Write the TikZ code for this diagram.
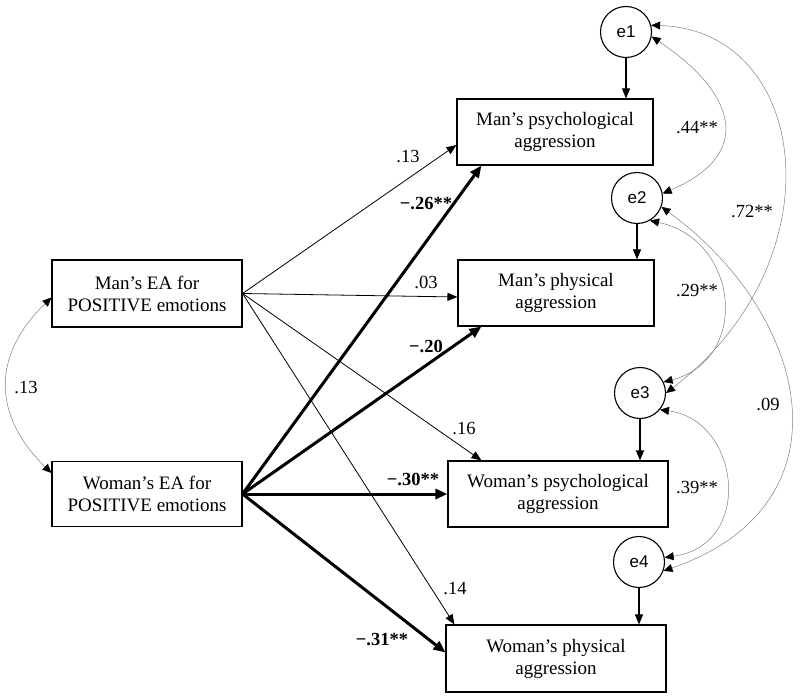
\documentclass[tikz,border=0pt]{standalone}
\usepackage{fontspec}
\setmainfont{Liberation Serif}
\setsansfont{Liberation Sans}
\usetikzlibrary{arrows.meta}

\tikzset{
box/.style={draw, line width=1.1pt, minimum width=196pt, minimum height=66pt,
  align=center, inner sep=2pt, font=\fontsize{19}{22}\selectfont},
err/.style={draw, circle, line width=1.1pt, minimum size=51pt, inner sep=0pt,
  font=\sffamily\fontsize{17}{20}\selectfont},
lbl/.style={inner sep=0pt, font=\fontsize{18.5}{21}\selectfont},
blbl/.style={inner sep=0pt, font=\bfseries\fontsize{18.5}{21}\selectfont},
weak/.style={line width=0.8pt, -{Triangle[length=10pt,width=8pt]}},
strong/.style={line width=3pt, -{Triangle[length=12pt,width=10pt]}},
load/.style={line width=1.1pt, -{Triangle[length=10pt,width=8pt]}},
cov/.style={line width=0.5pt, gray,
  {Triangle[length=9pt,width=8pt,color=black]}-{Triangle[length=9pt,width=8pt,color=black]}}
}

\begin{document}
\begin{tikzpicture}[x=1pt,y=-1pt]
\useasboundingbox (0,0) rectangle (800,700);
\node[box,minimum width=190pt,minimum height=67pt] (mea) at (147,293.5) {Man’s EA for\\POSITIVE emotions};
\node[box,minimum width=190pt,minimum height=65pt] (wea) at (147,494) {Woman’s EA for\\POSITIVE emotions};
\node[box] (mpsy) at (555,132) {Man’s psychological\\aggression};
\node[box] (mphy) at (556,293) {Man’s physical\\aggression};
\node[box,minimum width=220pt] (wpsy) at (558,494) {Woman’s psychological\\aggression};
\node[box,minimum width=220pt,minimum height=67pt] (wphy) at (556,658.5) {Woman’s physical\\aggression};
\node[err] (e1) at (626,32) {e1};
\node[err] (e2) at (637,198) {e2};
\node[err] (e3) at (640,393) {e3};
\node[err] (e4) at (639,562) {e4};

\draw[load] (e1) -- (e1 |- mpsy.north);
\draw[load] (e2) -- (e2 |- mphy.north);
\draw[load] (e3) -- (e3 |- wpsy.north);
\draw[load] (e4) -- (e4 |- wphy.north);

\draw[weak] (mea.east) -- ([yshift=-13pt]mpsy.west);
\draw[weak] (mea.east) -- ([yshift=-4pt]mphy.west);
\draw[weak] (mea.east) -- ([xshift=34pt]wpsy.north west);
\draw[weak] (mea.east) -- ([xshift=9pt]wphy.north west);
\draw[strong] (wea.east) -- ([xshift=25pt]mpsy.south west);
\draw[strong] (wea.east) -- ([xshift=24pt]mphy.south west);
\draw[strong] (wea.east) -- (wpsy.west);
\draw[strong] (wea.east) -- ([yshift=6pt]wphy.west);

\draw[cov] ([yshift=-4pt]mea.west) .. controls (-8,355) and (-8,415) .. ([yshift=21pt]wea.west);
\draw[cov] (e1.-10) .. controls (736,93) and (755,154) .. (e2.10);
\draw[cov] (e1.15) .. controls (810,30) and (840,260) .. (e3.0);
\draw[cov] (e2.-60) .. controls (740,240) and (750,360) .. (e3.25);
\draw[cov] (e2.-20) .. controls (810,315) and (855,505) .. (e4.-20);
\draw[cov] (e3.-40) .. controls (740,420) and (755,545) .. (e4.10);

\node[lbl] (c13) at (408,157) {.13};
\node[blbl] (c26) at (426,204) {−.26**};
\node[lbl] (c03) at (426,282) {.03};
\node[blbl] (c20) at (426,346) {−.20};
\node[lbl] (c16) at (464,429) {.16};
\node[blbl] (c30) at (413,479) {−.30**};
\node[lbl] (c14) at (455,589) {.14};
\node[blbl] (c31) at (382,640) {−.31**};
\node[lbl] (r13) at (26,388) {.13};
\node[lbl] (r44) at (697,128) {.44**};
\node[lbl] (r72) at (752,212) {.72**};
\node[lbl] (r29) at (697,291) {.29**};
\node[lbl] (r09) at (768,404) {.09};
\node[lbl] (r39) at (697,488) {.39**};
\end{tikzpicture}
\end{document}
